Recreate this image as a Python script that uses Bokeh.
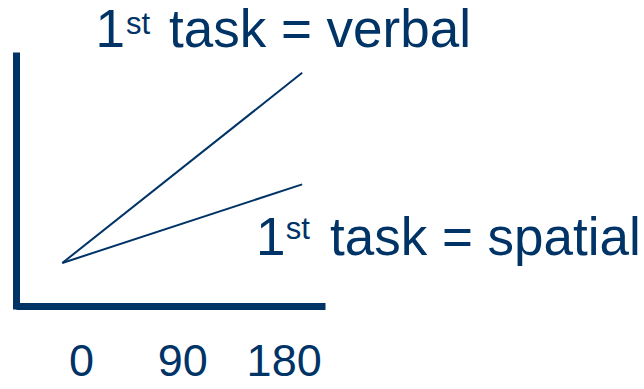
from bokeh.plotting import figure
from bokeh.models import FixedTicker, Label, Range1d, LinearAxis
from bokeh.embed import file_html
from bokeh.resources import INLINE

# Angle difference (x) vs. response measure (y, arbitrary units)
x_angles = [-17, 196]
verbal_first = [17, 92]
spatial_first = [17, 48]
tick_values = [0, 90, 180]
tick_labels = ["0", "90", "180"]

NAVY = "#003366"
FONT = "Liberation Sans"

p = figure(width=644, height=389, output_backend="svg", toolbar_location=None,
           x_range=Range1d(-71.9, 500.0), y_range=Range1d(-32.9, 120.5),
           min_border=0, x_axis_type=None, y_axis_type=None)
p.background_fill_color = "white"
p.border_fill_color = "white"
p.outline_line_color = None
p.grid.visible = False

# Bottom axis: thick line with 0/90/180 labels, pinned at y = 0
xaxis = LinearAxis(fixed_location=0, bounds=(-57.3, 216.7),
                   ticker=FixedTicker(ticks=tick_values),
                   major_label_overrides={v: t for v, t in zip(tick_values, tick_labels)})
xaxis.axis_line_width = 7
xaxis.axis_line_color = NAVY
xaxis.major_tick_line_color = None
xaxis.minor_tick_line_color = None
xaxis.major_tick_out = 0
xaxis.major_tick_in = 0
xaxis.major_label_standoff = 39
xaxis.major_label_text_font = FONT
xaxis.major_label_text_font_size = "45px"
xaxis.major_label_text_color = NAVY
p.add_layout(xaxis, "below")

# Left axis: thick line only, pinned at the left end of the bottom axis
yaxis = LinearAxis(fixed_location=-57.3, bounds=(-1.4, 100),
                   ticker=FixedTicker(ticks=[]))
yaxis.axis_line_width = 7
yaxis.axis_line_color = NAVY
yaxis.major_tick_line_color = None
yaxis.minor_tick_line_color = None
yaxis.major_tick_out = 0
yaxis.major_tick_in = 0
yaxis.major_label_text_font_size = "0px"
p.add_layout(yaxis, "left")

p.line(x_angles, verbal_first, line_color=NAVY, line_width=2)
p.line(x_angles, spatial_first, line_color=NAVY, line_width=2)


def task_label(x_one, x_sup, x_rest, y_base, y_sup, rest):
    common = dict(text_font=FONT, text_color=NAVY, text_baseline="alphabetic")
    p.add_layout(Label(x=x_one, y=y_base, text="1", text_font_size="53px", **common))
    p.add_layout(Label(x=x_sup, y=y_sup, text="st", text_font_size="31px", **common))
    p.add_layout(Label(x=x_rest, y=y_base, text=rest, text_font_size="53px", **common))


task_label(12.5, 39.5, 77.7, 109.5, 111.3, "task = verbal")
task_label(155.0, 181.5, 220.7, 27.3, 30.4, "task = spatial")

open("out.html", "w").write(file_html(p, INLINE))
